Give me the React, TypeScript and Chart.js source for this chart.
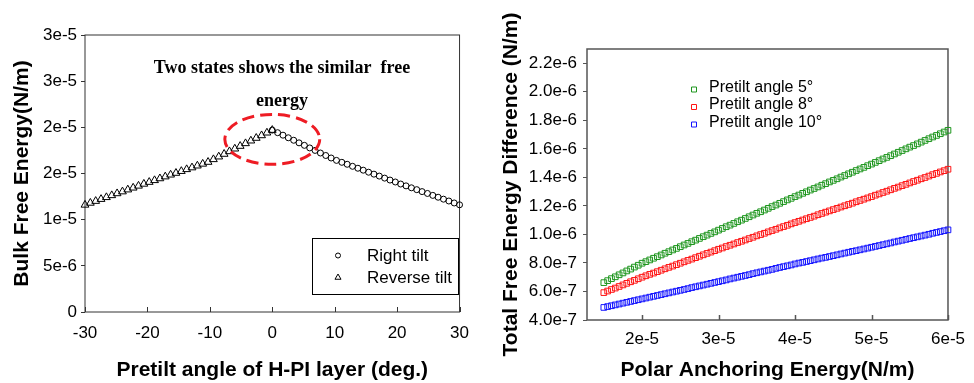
import React, { useEffect, useRef } from 'react';
import { Chart, registerables } from 'chart.js';

Chart.register(...registerables);

// ---------- Left chart data (angle in deg, energy in units of 1e-6 N/m) ----------
const rightTiltAngle = [0, 0.857, 1.714, 2.571, 3.429, 4.286, 5.143, 6, 6.857, 7.714, 8.571, 9.429, 10.286, 11.143, 12, 12.857, 13.714, 14.571, 15.429, 16.286, 17.143, 18, 18.857, 19.714, 20.571, 21.429, 22.286, 23.143, 24, 24.857, 25.714, 26.571, 27.429, 28.286, 29.143, 30];
const rightTiltEnergyE6 = [19.70, 19.42, 19.15, 18.87, 18.60, 18.32, 18.05, 17.77, 17.50, 17.22, 16.95, 16.68, 16.42, 16.21, 16.00, 15.78, 15.57, 15.36, 15.14, 14.93, 14.72, 14.50, 14.29, 14.08, 13.86, 13.66, 13.45, 13.25, 13.04, 12.84, 12.63, 12.43, 12.22, 12.02, 11.81, 11.61];
const reverseTiltAngle = [-30, -29.143, -28.286, -27.429, -26.571, -25.714, -24.857, -24, -23.143, -22.286, -21.429, -20.571, -19.714, -18.857, -18, -17.143, -16.286, -15.429, -14.571, -13.714, -12.857, -12, -11.143, -10.286, -9.429, -8.571, -7.714, -6.857, -6, -5.143, -4.286, -3.429, -2.571, -1.714, -0.857, 0];
const reverseTiltEnergyE6 = [11.60, 11.81, 12.01, 12.22, 12.42, 12.63, 12.84, 13.04, 13.25, 13.45, 13.66, 13.87, 14.07, 14.26, 14.46, 14.66, 14.86, 15.05, 15.25, 15.45, 15.64, 15.84, 16.04, 16.24, 16.53, 16.82, 17.11, 17.39, 17.68, 17.97, 18.26, 18.55, 18.84, 19.12, 19.41, 19.70];
const leftXTicks = [-30, -20, -10, 0, 10, 20, 30];
const leftXTickLabels = ['-30', '-20', '-10', '0', '10', '20', '30'];
const leftYTicks = [0, 5, 10, 15, 20, 25, 30];
const leftYTickLabels = ['0', '5e-6', '1e-5', '2e-5', '2e-5', '3e-5', '3e-5'];
const leftSeriesNames = ['Right tilt', 'Reverse tilt'];
const annotationLines = ['Two states shows the similar  free', 'energy'];

// ---------- Right chart data (anchoring in 1e-6 N/m, energy diff in 1e-7 N/m) ----------
const anchoringE6 = [15, 15.5, 16, 16.5, 17, 17.5, 18, 18.5, 19, 19.5, 20, 20.5, 21, 21.5, 22, 22.5, 23, 23.5, 24, 24.5, 25, 25.5, 26, 26.5, 27, 27.5, 28, 28.5, 29, 29.5, 30, 30.5, 31, 31.5, 32, 32.5, 33, 33.5, 34, 34.5, 35, 35.5, 36, 36.5, 37, 37.5, 38, 38.5, 39, 39.5, 40, 40.5, 41, 41.5, 42, 42.5, 43, 43.5, 44, 44.5, 45, 45.5, 46, 46.5, 47, 47.5, 48, 48.5, 49, 49.5, 50, 50.5, 51, 51.5, 52, 52.5, 53, 53.5, 54, 54.5, 55, 55.5, 56, 56.5, 57, 57.5, 58, 58.5, 59, 59.5, 60];
const pretilt5E7 = [6.62, 6.76, 6.90, 7.03, 7.17, 7.30, 7.44, 7.57, 7.71, 7.84, 7.98, 8.09, 8.21, 8.33, 8.44, 8.56, 8.68, 8.79, 8.91, 9.02, 9.14, 9.26, 9.37, 9.49, 9.60, 9.72, 9.84, 9.95, 10.07, 10.18, 10.30, 10.42, 10.54, 10.65, 10.77, 10.89, 11.00, 11.12, 11.24, 11.36, 11.48, 11.59, 11.71, 11.83, 11.95, 12.06, 12.18, 12.30, 12.42, 12.53, 12.65, 12.76, 12.88, 12.99, 13.11, 13.22, 13.33, 13.45, 13.56, 13.68, 13.79, 13.90, 14.02, 14.13, 14.25, 14.36, 14.48, 14.59, 14.70, 14.82, 14.93, 15.05, 15.17, 15.29, 15.40, 15.52, 15.64, 15.76, 15.88, 16.00, 16.12, 16.23, 16.35, 16.47, 16.59, 16.71, 16.83, 16.94, 17.06, 17.18, 17.30];
const pretilt8E7 = [5.92, 6.03, 6.14, 6.24, 6.35, 6.46, 6.57, 6.68, 6.78, 6.89, 7.00, 7.10, 7.20, 7.29, 7.39, 7.49, 7.59, 7.69, 7.78, 7.88, 7.98, 8.08, 8.18, 8.27, 8.37, 8.47, 8.57, 8.67, 8.76, 8.86, 8.96, 9.05, 9.15, 9.24, 9.33, 9.43, 9.52, 9.61, 9.71, 9.80, 9.90, 9.99, 10.08, 10.18, 10.27, 10.36, 10.46, 10.55, 10.64, 10.74, 10.83, 10.92, 11.01, 11.10, 11.19, 11.28, 11.38, 11.47, 11.56, 11.65, 11.74, 11.83, 11.92, 12.01, 12.10, 12.19, 12.29, 12.38, 12.47, 12.56, 12.65, 12.75, 12.84, 12.94, 13.03, 13.13, 13.23, 13.32, 13.42, 13.51, 13.61, 13.71, 13.80, 13.90, 13.99, 14.09, 14.19, 14.28, 14.38, 14.47, 14.57];
const pretilt10E7 = [4.88, 4.94, 5.00, 5.06, 5.12, 5.18, 5.24, 5.30, 5.36, 5.42, 5.48, 5.54, 5.60, 5.66, 5.72, 5.78, 5.84, 5.90, 5.96, 6.02, 6.08, 6.14, 6.20, 6.27, 6.33, 6.39, 6.45, 6.51, 6.57, 6.63, 6.69, 6.75, 6.81, 6.88, 6.94, 7.00, 7.06, 7.12, 7.18, 7.25, 7.31, 7.37, 7.43, 7.49, 7.55, 7.62, 7.68, 7.74, 7.80, 7.86, 7.93, 7.99, 8.04, 8.10, 8.16, 8.22, 8.28, 8.34, 8.39, 8.45, 8.51, 8.57, 8.63, 8.69, 8.75, 8.81, 8.86, 8.92, 8.98, 9.04, 9.10, 9.16, 9.22, 9.28, 9.34, 9.40, 9.47, 9.53, 9.59, 9.65, 9.71, 9.77, 9.83, 9.89, 9.95, 10.01, 10.08, 10.14, 10.20, 10.26, 10.32];
const rightSeriesNames = ['Pretilt angle 5°', 'Pretilt angle 8°', 'Pretilt angle 10°'];
const rightSeriesColors = ['rgb(30,150,30)', 'rgb(255,20,20)', 'rgb(20,20,255)'];
const rightXTicks = [20, 30, 40, 50, 60];
const rightXTickLabels = ['2e-5', '3e-5', '4e-5', '5e-5', '6e-5'];
const rightYTicks = [4, 6, 8, 10, 12, 14, 16, 18, 20, 22];
const rightYTickLabels = ['4.0e-7', '6.0e-7', '8.0e-7', '1.0e-6', '1.2e-6', '1.4e-6', '1.6e-6', '1.8e-6', '2.0e-6', '2.2e-6'];

const SANS = "'Liberation Sans', Arial, Helvetica, sans-serif";
const SERIF = "'Liberation Serif', 'Times New Roman', serif";

function toPoints(xs: number[], ys: number[]) {
  return xs.map((x, i) => ({ x, y: ys[i] }));
}

function framePlugin(color: string, width: number, inTick: number) {
  return {
    id: 'frame',
    beforeDatasetsDraw(chart: any) {
      const { ctx, chartArea: a, scales } = chart;
      ctx.save();
      ctx.strokeStyle = color;
      ctx.lineWidth = width;
      ctx.strokeRect(a.left, a.top, a.right - a.left, a.bottom - a.top);
      ctx.beginPath();
      for (const t of scales.x.ticks) {
        const px = Math.round(scales.x.getPixelForValue(t.value)) + 0.5;
        ctx.moveTo(px, a.bottom);
        ctx.lineTo(px, a.bottom - inTick);
      }
      ctx.stroke();
      ctx.restore();
    },
  };
}

function drawMarker(ctx: CanvasRenderingContext2D, style: string, x: number, y: number, r: number, color: string) {
  ctx.save();
  ctx.strokeStyle = color;
  ctx.lineWidth = 1;
  ctx.beginPath();
  if (style === 'circle') {
    ctx.arc(x, y, r, 0, Math.PI * 2);
  } else if (style === 'triangle') {
    ctx.moveTo(x, y - r);
    ctx.lineTo(x + r * 0.866, y + r * 0.5);
    ctx.lineTo(x - r * 0.866, y + r * 0.5);
    ctx.closePath();
  } else {
    ctx.rect(x - r, y - r, 2 * r, 2 * r);
  }
  ctx.stroke();
  ctx.restore();
}

const leftOverlay = {
  id: 'leftOverlay',
  afterDatasetsDraw(chart: any) {
    const { ctx, scales } = chart;
    const xs = scales.x;
    const ys = scales.y;
    // dashed ellipse around the peak
    const cx = xs.getPixelForValue(0);
    const cy = ys.getPixelForValue(18.7);
    const rx = xs.getPixelForValue(7.6) - cx;
    const ry = cy - ys.getPixelForValue(18.7 + 2.7);
    ctx.save();
    ctx.strokeStyle = 'rgb(238,28,36)';
    ctx.lineWidth = 3;
    ctx.setLineDash([12, 6]);
    ctx.beginPath();
    ctx.ellipse(cx, cy, rx, ry, 0, 0, Math.PI * 2);
    ctx.stroke();
    ctx.restore();

    // annotation text
    ctx.save();
    ctx.fillStyle = '#000';
    ctx.font = `bold 18px ${SERIF}`;
    ctx.textAlign = 'center';
    ctx.textBaseline = 'alphabetic';
    ctx.fillText(annotationLines[0], 282, 73);
    ctx.fillText(annotationLines[1], 282, 106);
    ctx.restore();

    // legend box
    ctx.save();
    ctx.strokeStyle = '#000';
    ctx.lineWidth = 1;
    ctx.strokeRect(312.5, 238.5, 146, 56);
    drawMarker(ctx, 'circle', 338, 255.5, 2.5, '#000');
    drawMarker(ctx, 'triangle', 338, 277.5, 3.5, '#000');
    ctx.fillStyle = '#000';
    ctx.font = `17px ${SANS}`;
    ctx.textAlign = 'left';
    ctx.textBaseline = 'middle';
    ctx.fillText(leftSeriesNames[0], 367, 256);
    ctx.fillText(leftSeriesNames[1], 367, 278);
    ctx.restore();
  },
};

const rightOverlay = {
  id: 'rightOverlay',
  afterDatasetsDraw(chart: any) {
    const { ctx } = chart;
    ctx.save();
    const rows = [89.5, 107, 124.5];
    ctx.font = `16px ${SANS}`;
    ctx.textAlign = 'left';
    ctx.textBaseline = 'middle';
    rows.forEach((y, i) => {
      drawMarker(ctx, 'rect', 204, y, 2.5, rightSeriesColors[i]);
      ctx.fillStyle = '#000';
      ctx.fillText(rightSeriesNames[i], 219, y - 2);
    });
    ctx.restore();
  },
};

function makeLeftConfig(): any {
  return {
    type: 'scatter',
    data: {
      datasets: [
        {
          label: leftSeriesNames[0],
          data: toPoints(rightTiltAngle, rightTiltEnergyE6),
          pointStyle: 'circle',
          pointRadius: 3,
          borderColor: '#000',
          backgroundColor: 'rgba(0,0,0,0)',
          borderWidth: 1,
          showLine: false,
          clip: false,
        },
        {
          label: leftSeriesNames[1],
          data: toPoints(reverseTiltAngle, reverseTiltEnergyE6),
          pointStyle: 'triangle',
          pointRadius: 4.5,
          borderColor: '#000',
          backgroundColor: 'rgba(0,0,0,0)',
          borderWidth: 1,
          showLine: false,
          clip: false,
        },
      ],
    },
    options: {
      animation: false,
      responsive: false,
      events: [],
      layout: { padding: { left: 0, top: 35, right: 17, bottom: 0 } },
      plugins: { legend: { display: false }, tooltip: { enabled: false } },
      scales: {
        x: {
          type: 'linear',
          min: -30,
          max: 30,
          afterBuildTicks: (s: any) => { s.ticks = leftXTicks.map((v) => ({ value: v })); },
          afterFit: (s: any) => { s.height = 71; },
          ticks: {
            callback: (_v: any, i: number) => leftXTickLabels[i],
            font: { size: 17, family: SANS },
            color: '#000',
            padding: 11,
            maxRotation: 0,
            autoSkip: false,
          },
          grid: { display: false, drawTicks: false },
          border: { display: false },
          title: {
            display: true,
            text: 'Pretilt angle of H-PI layer (deg.)',
            font: { size: 21, weight: 'bold', family: SANS },
            color: '#000',
            padding: { top: 8, bottom: 0 },
          },
        },
        y: {
          type: 'linear',
          min: 0,
          max: 30,
          afterBuildTicks: (s: any) => { s.ticks = leftYTicks.map((v) => ({ value: v })); },
          afterFit: (s: any) => { s.width = 85; },
          ticks: {
            callback: (_v: any, i: number) => leftYTickLabels[i],
            font: { size: 17, family: SANS },
            color: '#000',
            padding: 4,
            autoSkip: false,
          },
          grid: { display: true, drawOnChartArea: false, drawTicks: true, tickLength: 4, color: '#333', lineWidth: 1 },
          border: { display: false },
          title: {
            display: true,
            text: 'Bulk Free Energy(N/m)',
            font: { size: 21, weight: 'bold', family: SANS },
            color: '#000',
            padding: { top: 10, bottom: 0 },
          },
        },
      },
    },
    plugins: [framePlugin('#333', 1, 5), leftOverlay],
  };
}

function makeRightConfig(): any {
  const series = [pretilt5E7, pretilt8E7, pretilt10E7];
  return {
    type: 'scatter',
    data: {
      datasets: series.map((ys, i) => ({
        label: rightSeriesNames[i],
        data: toPoints(anchoringE6, ys),
        pointStyle: 'rect',
        pointRadius: 4,
        borderColor: rightSeriesColors[i],
        backgroundColor: 'rgba(0,0,0,0)',
        borderWidth: 1,
        showLine: false,
        clip: false,
      })),
    },
    options: {
      animation: false,
      responsive: false,
      events: [],
      layout: { padding: { left: 0, top: 49, right: 18, bottom: 0 } },
      plugins: { legend: { display: false }, tooltip: { enabled: false } },
      scales: {
        x: {
          type: 'linear',
          min: 12.8,
          max: 60,
          afterBuildTicks: (s: any) => { s.ticks = rightXTicks.map((v) => ({ value: v })); },
          afterFit: (s: any) => { s.height = 63; },
          ticks: {
            callback: (_v: any, i: number) => rightXTickLabels[i],
            font: { size: 17, family: SANS },
            color: '#000',
            padding: 9,
            maxRotation: 0,
            autoSkip: false,
          },
          grid: { display: false, drawTicks: false },
          border: { display: false },
          title: {
            display: true,
            text: 'Polar Anchoring Energy(N/m)',
            font: { size: 21, weight: 'bold', family: SANS },
            color: '#000',
            padding: { top: 0, bottom: 0 },
          },
        },
        y: {
          type: 'linear',
          min: 4,
          max: 23,
          afterBuildTicks: (s: any) => { s.ticks = rightYTicks.map((v) => ({ value: v })); },
          afterFit: (s: any) => { s.width = 97; },
          ticks: {
            callback: (_v: any, i: number) => rightYTickLabels[i],
            font: { size: 17, family: SANS },
            color: '#000',
            padding: 6,
            autoSkip: false,
          },
          grid: { display: true, drawOnChartArea: false, drawTicks: true, tickLength: 4, color: '#555', lineWidth: 1 },
          border: { display: false },
          title: {
            display: true,
            text: 'Total Free Energy Difference (N/m)',
            font: { size: 21, weight: 'bold', family: SANS },
            color: '#000',
            padding: { top: 9, bottom: 0 },
          },
        },
      },
    },
    plugins: [framePlugin('#555', 1.5, 5), rightOverlay],
  };
}

export default function App() {
  const leftRef = useRef<HTMLCanvasElement | null>(null);
  const rightRef = useRef<HTMLCanvasElement | null>(null);

  useEffect(() => {
    const c1 = new Chart(leftRef.current as HTMLCanvasElement, makeLeftConfig());
    const c2 = new Chart(rightRef.current as HTMLCanvasElement, makeRightConfig());
    return () => {
      c1.destroy();
      c2.destroy();
    };
  }, []);

  return (
    <div style={{ position: 'absolute', left: 0, top: 0, width: 974, height: 383, background: '#fff', overflow: 'hidden' }}>
      <canvas ref={leftRef} width={480} height={383} style={{ position: 'absolute', left: 0, top: 0, width: 480, height: 383 }} />
      <canvas ref={rightRef} width={484} height={383} style={{ position: 'absolute', left: 490, top: 0, width: 484, height: 383 }} />
    </div>
  );
}
